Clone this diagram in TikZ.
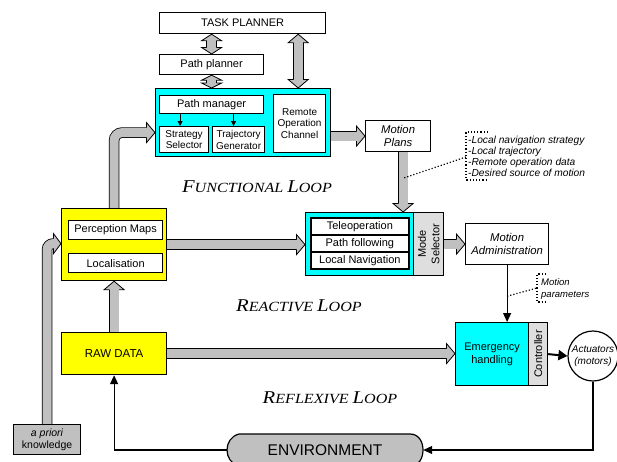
\documentclass[tikz,border=0pt]{standalone}
\usepackage{fontspec}
\setmainfont{Liberation Sans}
\newfontfamily\serifloop{Liberation Serif}
\usepackage{graphicx}
\usetikzlibrary{arrows.meta,calc}
\definecolor{cyanfill}{HTML}{00FFFF}
\definecolor{yellowfill}{HTML}{FFFF00}
\definecolor{pipegray}{HTML}{C0C0C0}
\definecolor{lightbox}{HTML}{DEDEDE}
\pgfdeclarelayer{background}
\pgfsetlayers{background,main}
\newcommand\pipehead[3]{%
  \begin{scope}[shift={#1}, rotate=#2]
    \filldraw[fill=pipegray, draw=black, line width=0.8pt, line join=miter]
      (-#3,4.9) -- (-#3,10) -- (0,0) -- (-#3,-10) -- (-#3,-4.9);
  \end{scope}}
\newcommand\capsc[2]{{\fontsize{18}{18}\selectfont #1}{\fontsize{14}{14}\selectfont #2}}
\newcommand\looptext[4]{\scalebox{1.15}[1]{\capsc{#1}{#2}{\fontsize{14}{14}\selectfont\ }\capsc{#3}{#4}}}
\begin{document}
\begin{tikzpicture}[x=1pt,y=-1pt,
  box/.style={draw, line width=1.2pt, inner sep=0pt, align=center, anchor=north west, fill=white},
  f11/.style={font=\fontsize{11}{13}\selectfont},
  f10/.style={font=\fontsize{10}{11.8}\selectfont},
  fit11/.style={font=\fontsize{11.3}{13.3}\selectfont\itshape},
  pipe/.style={draw=black, double=pipegray, double distance=9pt, line width=0.8pt},
  blk/.style={-{Triangle[length=9pt,width=8pt]}, line width=1.2pt},
  sblk/.style={-{Triangle[length=5pt,width=5pt]}, line width=0.9pt},
  note/.style={dotted, line width=1.2pt},
  notetext/.style={anchor=base west, inner sep=0pt, font=\fontsize{10.2}{11}\selectfont\itshape},
  looplbl/.style={font=\serifloop\itshape, inner sep=0pt}]
\useasboundingbox (0,0) rectangle (617,461);

% ---------- boxes ----------
\node[box, f11, minimum width=166pt, minimum height=21pt] (tp) at (159,12) {TASK PLANNER};
\node[box, f11, minimum width=104pt, minimum height=20pt] (pp) at (159,54) {Path planner};
\node[box, fill=cyanfill, minimum width=175pt, minimum height=68pt] (fl) at (155,88) {};
\node[box, f11, minimum width=104pt, minimum height=18pt] (pm) at (159,95) {Path manager};
\node[box, f10, minimum width=49pt, minimum height=26pt] (ss) at (159,126) {Strategy\\Selector};
\node[box, f10, minimum width=52pt, minimum height=26pt] (tg) at (212,126) {Trajectory\\Generator};
\node[box, f10, minimum width=52pt, minimum height=58pt] (roc) at (273,94) {Remote\\Operation\\Channel};
\node[box, fit11, minimum width=65pt, minimum height=31pt] (mp) at (365,120) {Motion\\Plans};

\node[box, fill=yellowfill, minimum width=105pt, minimum height=72pt] (yb) at (61,208) {};
\node[box, f11, minimum width=94pt, minimum height=19pt] (pmap) at (68,220) {Perception Maps};
\node[box, f11, minimum width=94pt, minimum height=19pt] (loc) at (68,253) {Localisation};

\node[box, fill=cyanfill, minimum width=108pt, minimum height=63pt] (rb) at (305,212) {};
\node[box, f11, line width=1.7pt, minimum width=98pt, minimum height=17pt] (tele) at (310,217) {Teleoperation};
\node[box, f11, line width=1.7pt, minimum width=98pt, minimum height=17pt] (pf) at (310,234) {Path following};
\node[box, f11, line width=1.7pt, minimum width=98pt, minimum height=17pt] (ln) at (310,251) {Local Navigation};
\node[box, fill=lightbox, minimum width=30pt, minimum height=63pt] (ms) at (413,212) {};
\node[rotate=90, align=center, inner sep=0pt, font=\fontsize{11}{13.5}\selectfont] (mst) at (ms.center) {Mode\\Selector};
\node[box, fit11, minimum width=83pt, minimum height=41pt] (ma) at (465,223) {Motion\\Administration};

\node[box, fill=yellowfill, font=\fontsize{11.5}{13}\selectfont, minimum width=105pt, minimum height=42pt] (raw) at (61,332) {RAW DATA};
\node[box, fill=cyanfill, f11, minimum width=73pt, minimum height=63pt] (eh) at (455,322) {Emergency\\handling};
\node[box, fill=lightbox, minimum width=19pt, minimum height=63pt] (ctl) at (528,322) {};
\node[rotate=90, inner sep=0pt, font=\fontsize{11}{13}\selectfont] (ctlt) at (ctl.center) {Controller};
\node[draw, circle, line width=1.2pt, minimum size=50pt, inner sep=0pt, align=center, fill=white,
      font=\fontsize{10}{12}\selectfont\itshape] (act) at (593,356) {Actuators\\(motors)};
\node[box, fill=pipegray, font=\fontsize{10.5}{12.5}\selectfont, minimum width=67pt, minimum height=30pt] (apk) at (13,424) {\textit{a priori}\\knowledge};

% environment shape
\filldraw[fill=pipegray, line width=1.2pt] (239,434) -- (410,434)
  .. controls (419,434) and (423,442) .. (423,450)
  .. controls (423,458) and (419,466) .. (410,466) -- (239,466)
  .. controls (231,464) and (227,457) .. (227,450)
  .. controls (227,443) and (231,436) .. (239,434) -- cycle;
\node[inner sep=0pt, minimum width=196pt, minimum height=32pt, font=\fontsize{15.5}{18}\selectfont] (env) at (325,450) {ENVIRONMENT};

% ---------- grey pipes ----------
\begin{pgfonlayer}{background}
% task planner <-> path planner
\coordinate (a1) at (pp.north |- tp.south);
\draw[pipe] ($(a1)+(0,6)$) -- ($(pp.north)+(0,-6)$);
\pipehead{(a1)}{90}{6.5}
\pipehead{(pp.north)}{-90}{6.5}
% path planner <-> functional
\coordinate (a2) at (pp.south |- fl.north);
\draw[pipe] ($(pp.south)+(0,4.5)$) -- ($(a2)+(0,-4.5)$);
\pipehead{(pp.south)}{90}{5}
\pipehead{(a2)}{-90}{5}
% task planner <-> functional (remote)
\coordinate (a3) at ($(tp.south east)+(-28,0)$);
\coordinate (a4) at (a3 |- fl.north);
\draw[pipe] ($(a3)+(0,8)$) -- ($(a4)+(0,-8)$);
\pipehead{(a3)}{90}{8.5}
\pipehead{(a4)}{-90}{8.5}
% yellow -> functional
\coordinate (b1) at ($(fl.west)+(0,10)$);
\draw[pipe, rounded corners=8pt] (yb.north) |- ($(b1)+(-8,0)$);
\pipehead{(b1)}{0}{8.5}
% a priori -> yellow
\draw[pipe, rounded corners=6pt] (apk.north) |- ($(yb.west)+(-7,-1)$);
\pipehead{($(yb.west)+(0,-1)$)}{0}{7.5}
% functional -> motion plans
\coordinate (c1) at (mp.west -| fl.east);
\draw[pipe] (c1) -- ($(mp.west)+(-8,0)$);
\pipehead{(mp.west)}{0}{8.5}
% motion plans -> reactive
\coordinate (c2) at ($(mp.south)+(5,0)$);
\coordinate (c3) at (c2 |- rb.north);
\draw[pipe] (c2) -- ($(c3)+(0,-8)$);
\pipehead{(c3)}{-90}{8.5}
% yellow -> reactive
\coordinate (c4) at (yb.east -| rb.west);
\draw[pipe] (yb.east) -- ($(c4)+(-8,0)$);
\pipehead{(c4)}{0}{8.5}
% mode selector -> motion administration
\coordinate (c5) at (ms.east -| ma.west);
\draw[pipe] (ms.east) -- ($(c5)+(-8,0)$);
\pipehead{(c5)}{0}{8.5}
% raw data -> emergency
\coordinate (c6) at (raw.east -| eh.west);
\draw[pipe] (raw.east) -- ($(c6)+(-8,0)$);
\pipehead{(c6)}{0}{8.5}
% raw data -> yellow
\draw[pipe] (raw.north) -- ($(yb.south)+(0,8)$);
\pipehead{(yb.south)}{90}{8.5}
\end{pgfonlayer}

% ---------- black arrows ----------
\draw[sblk] ($(ss.north |- pm.south)+(-4,0)$) -- ($(ss.north)+(-4,0)$);
\draw[sblk] ($(tg.north |- pm.south)+(-5,0)$) -- ($(tg.north)+(-5,0)$);
\draw[blk] (ma.south) -- (ma.south |- eh.north);
\draw[-{Triangle[length=9pt,width=10pt]}, line width=2pt] (ctl.east) -- (act.west);
\draw[blk] (act.south) |- (env.east);
\draw[blk] (env.west) -| (raw.south);

% ---------- notes ----------
\draw[note] (488,132) -- (466,132) -- (466,180) -- (488,180);
\draw[note] (466,157) -- ($(c2)+(0,26)$);
\node[notetext] (n1) at (468,143.5) {-Local navigation strategy};
\node[notetext] (n2) at (468,154.5) {-Local trajectory};
\node[notetext] (n3) at (468,165.5) {-Remote operation data};
\node[notetext] (n4) at (468,176.5) {-Desired source of motion};

\draw[note] (546,274) -- (537,274) -- (537,302) -- (546,302);
\draw[note] ($(ma.south)+(0,31)$) -- (537,288);
\node[notetext, font=\fontsize{9.5}{11}\selectfont\itshape] (n5) at (541,285.5) {Motion};
\node[notetext, font=\fontsize{9.5}{11}\selectfont\itshape] (n6) at (541,297.5) {parameters};

% ---------- loop labels ----------
\node[looplbl] (lf) at (257,187) {\looptext{F}{UNCTIONAL}{L}{OOP}};
\node[looplbl] (lr) at (299,306) {\looptext{R}{EACTIVE}{L}{OOP}};
\node[looplbl] (lx) at (330,398) {\looptext{R}{EFLEXIVE}{L}{OOP}};
\end{tikzpicture}
\end{document}
